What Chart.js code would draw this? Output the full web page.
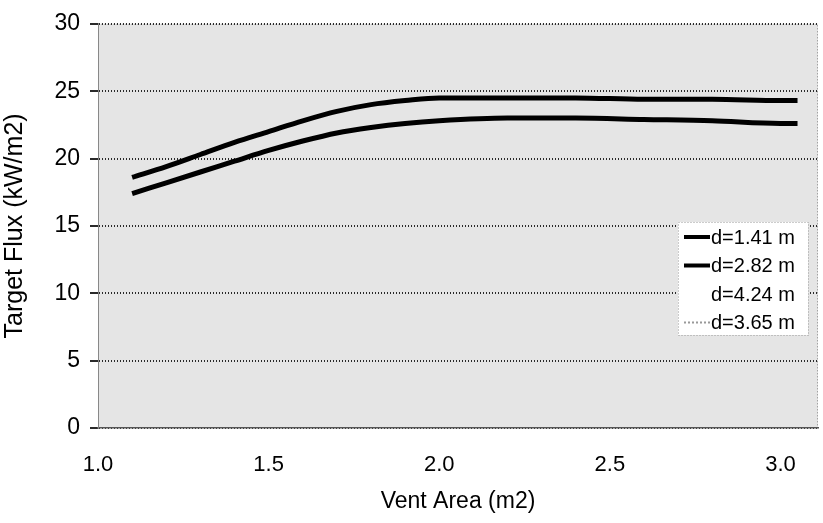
<!DOCTYPE html>
<html>
<head>
<meta charset="utf-8">
<script src="https://cdn.jsdelivr.net/npm/chart.js@4.4.1/dist/chart.umd.min.js"></script>
<style>
  html, body { margin: 0; padding: 0; background: #fff; }
  #wrap { width: 823px; height: 523px; }
</style>
</head>
<body>
<div id="wrap"><canvas id="flux-chart" width="823" height="523"></canvas></div>
<script>
// vent area (m2)
const ventArea = [1.1, 1.2, 1.3, 1.4, 1.5, 1.6, 1.7, 1.8, 1.9, 2.0, 2.2, 2.4, 2.6, 2.8, 3.0, 3.05];
// target flux (kW/m2)
const fluxD141 = [18.6, 19.4, 20.3, 21.2, 22.0, 22.8, 23.5, 24.0, 24.3, 24.5, 24.5, 24.5, 24.4, 24.4, 24.3, 24.3];
const fluxD282 = [17.4, 18.2, 19.0, 19.8, 20.6, 21.3, 21.9, 22.3, 22.6, 22.8, 23.0, 23.0, 22.9, 22.8, 22.6, 22.6];
const fluxD424 = [];
const fluxD365 = [];
const seriesNames = ["d=1.41 m", "d=2.82 m", "d=4.24 m", "d=3.65 m"];
const xTicks = [1.0, 1.5, 2.0, 2.5, 3.0];
const yTicks = [0, 5, 10, 15, 20, 25, 30];

const pts = (ys) => ys.map((y, i) => ({ x: ventArea[i], y: y }));

const FONT = "'Liberation Sans', Arial, sans-serif";

// grey scanned-looking plot area + dotted frame
const plotBg = {
  id: "plotBg",
  beforeDraw(chart) {
    const { ctx, chartArea: a } = chart;
    ctx.save();
    ctx.fillStyle = "#e5e5e5";
    ctx.fillRect(a.left, a.top, a.right - a.left, a.bottom - a.top);
    ctx.strokeStyle = "#888";
    ctx.lineWidth = 1;
    ctx.setLineDash([1, 2]);
    ctx.strokeRect(a.left + 0.5, a.top + 0.5, a.right - a.left - 1, a.bottom - a.top - 1);
    ctx.restore();
  }
};

// legend box sitting inside the plot
const boxLegend = {
  id: "boxLegend",
  afterDatasetsDraw(chart) {
    const { ctx } = chart;
    const x0 = 678, y0 = 222, w = 130, h = 113;
    ctx.save();
    ctx.fillStyle = "#fff";
    ctx.fillRect(x0, y0, w, h);
    ctx.strokeStyle = "#999";
    ctx.setLineDash([1, 2]);
    ctx.lineWidth = 1;
    ctx.strokeRect(x0 + 0.5, y0 + 0.5, w, h);
    ctx.font = "20px " + FONT;
    ctx.textBaseline = "middle";
    ctx.textAlign = "left";
    chart.data.datasets.forEach((ds, i) => {
      const y = y0 + 15 + i * 28.5;
      ctx.strokeStyle = ds.borderColor;
      ctx.lineWidth = Math.min(ds.borderWidth, 4);
      ctx.setLineDash(ds.borderDash || []);
      ctx.beginPath();
      ctx.moveTo(x0 + 6, y);
      ctx.lineTo(x0 + 32, y);
      ctx.stroke();
      ctx.fillStyle = "#000";
      ctx.fillText(ds.label, x0 + 33, y + 1);
    });
    ctx.restore();
  }
};

new Chart(document.getElementById("flux-chart").getContext("2d"), {
  type: "line",
  data: {
    datasets: [
      { label: seriesNames[0], data: pts(fluxD141), borderColor: "#000", borderWidth: 5 },
      { label: seriesNames[1], data: pts(fluxD282), borderColor: "#000", borderWidth: 5 },
      { label: seriesNames[2], data: pts(fluxD424), borderColor: "#fff", borderWidth: 2 },
      { label: seriesNames[3], data: pts(fluxD365), borderColor: "#999", borderWidth: 2, borderDash: [2, 2] },
    ],
  },
  options: {
    responsive: false,
    animation: false,
    elements: { point: { radius: 0 }, line: { cubicInterpolationMode: "monotone", fill: false } },
    layout: { padding: { left: 0, right: 5, top: 7, bottom: 8 } },
    plugins: { legend: { display: false }, tooltip: { enabled: false } },
    scales: {
      x: {
        type: "linear",
        min: 1.0,
        max: 3.11,
        afterBuildTicks: (s) => { s.ticks = xTicks.map((v) => ({ value: v })); },
        afterFit: (s) => { s.height = 87; },
        grid: { display: false, drawTicks: false },
        border: { display: true, color: "#555", width: 1.5 },
        ticks: {
          padding: 24,
          color: "#000",
          font: { family: FONT, size: 22 },
          maxRotation: 0,
          callback: (v) => Number(v).toFixed(1),
        },
        title: {
          display: true,
          text: "Vent Area (m2)",
          color: "#000",
          font: { family: FONT, size: 23 },
          padding: { top: 4, bottom: 0 },
        },
      },
      y: {
        min: 0,
        max: 30,
        afterBuildTicks: (s) => { s.ticks = yTicks.map((v) => ({ value: v })); },
        afterFit: (s) => { s.width = 98; },
        grid: { color: "#2a2a2a", lineWidth: 2, tickLength: 8, drawTicks: true },
        border: { display: true, color: "#888", width: 1, dash: [1, 2] },
        ticks: {
          padding: 10,
          color: "#000",
          font: { family: FONT, size: 23 },
        },
        title: {
          display: true,
          text: "Target Flux (kW/m2)",
          color: "#000",
          font: { family: FONT, size: 25 },
          padding: { top: 0, bottom: 2 },
        },
      },
    },
  },
  plugins: [plotBg, boxLegend],
});
</script>
</body>
</html>
